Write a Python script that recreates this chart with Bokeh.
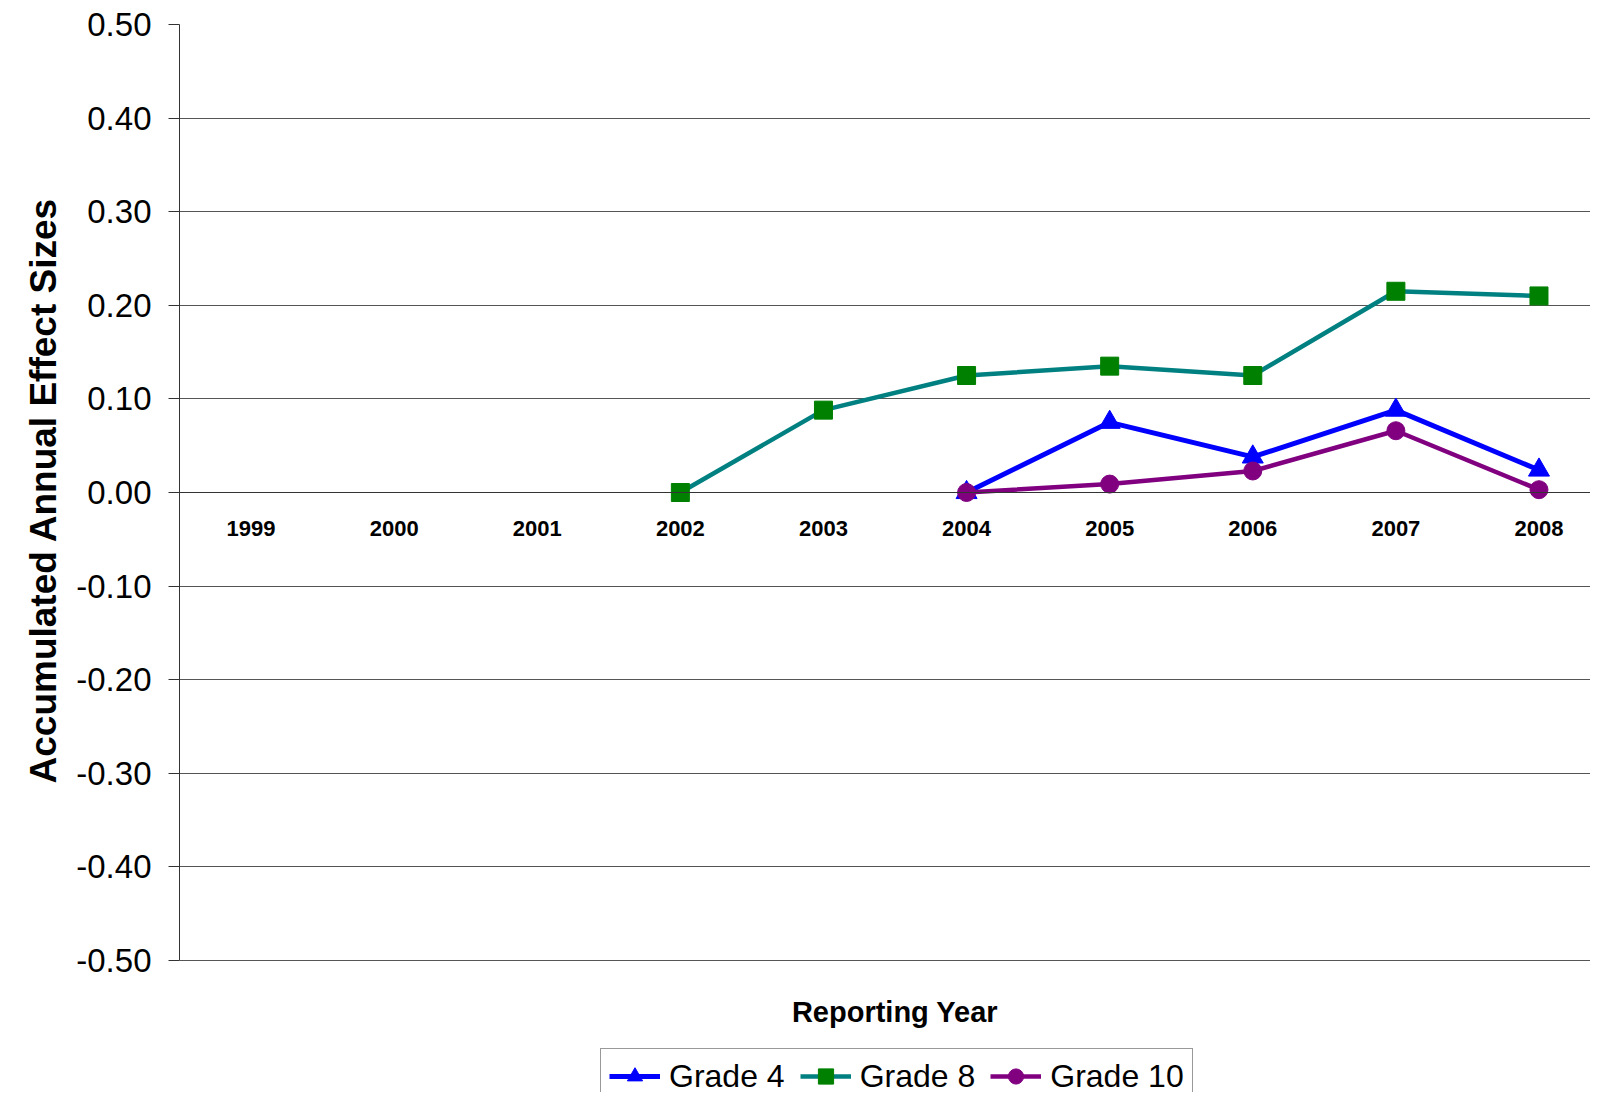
from bokeh.plotting import figure
from bokeh.models import Range1d, FixedTicker, NumeralTickFormatter, Legend, Label, Title
from bokeh.embed import file_html
from bokeh.resources import INLINE

# ---- data ----
years = [1999, 2000, 2001, 2002, 2003, 2004, 2005, 2006, 2007, 2008]
year_labels = ["1999", "2000", "2001", "2002", "2003", "2004", "2005", "2006", "2007", "2008"]

g4_years = [2004, 2005, 2006, 2007, 2008]
g4_vals = [0.000, 0.075, 0.038, 0.088, 0.024]

g8_years = [2002, 2003, 2004, 2005, 2006, 2007, 2008]
g8_vals = [0.000, 0.088, 0.125, 0.135, 0.125, 0.215, 0.210]

g10_years = [2004, 2005, 2006, 2007, 2008]
g10_vals = [0.000, 0.009, 0.023, 0.066, 0.003]

y_ticks = [-0.5, -0.4, -0.3, -0.2, -0.1, 0.0, 0.1, 0.2, 0.3, 0.4, 0.5]

FONT = "Liberation Sans"

p = figure(width=1590, height=1092, output_backend="svg", toolbar_location=None,
           x_range=Range1d(1998.5, 2008.36), y_range=Range1d(-0.641, 0.5),
           min_border_left=179, min_border_right=0, min_border_top=24, min_border_bottom=0,
           background_fill_color="white", border_fill_color="white")
p.outline_line_color = None

# y axis
yax = p.yaxis[0]
yax.ticker = FixedTicker(ticks=y_ticks)
yax.bounds = (-0.5, 0.5)
yax.formatter = NumeralTickFormatter(format="0.00")
yax.major_label_text_font = FONT
yax.major_label_text_font_size = "33px"
yax.major_label_text_color = "black"
yax.major_tick_out = 11
yax.major_tick_in = 0
yax.minor_tick_line_color = None
yax.major_label_standoff = 17
yax.axis_line_color = "#333333"
yax.major_tick_line_color = "#333333"

# y-axis title, anchored so that it is centred on the -0.5..0.5 span
ytitle = Title(text="Accumulated Annual Effect Sizes", align="left", offset=309,
               vertical_align="top",
               text_font=FONT, text_font_size="37px", text_font_style="bold",
               text_color="black", standoff=16)
p.add_layout(ytitle, "left")

# x axis (sits on the zero line)
xax = p.xaxis[0]
xax.ticker = FixedTicker(ticks=years)
xax.major_label_overrides = {y: l for y, l in zip(years, year_labels)}
xax.fixed_location = 0
xax.major_tick_out = 0
xax.major_tick_in = 0
xax.minor_tick_line_color = None
xax.axis_line_color = "#333333"
xax.major_label_standoff = 28
xax.major_label_text_font = FONT
xax.major_label_text_font_size = "22px"
xax.major_label_text_font_style = "bold"
xax.major_label_text_color = "black"

p.xgrid.grid_line_color = None
p.ygrid.ticker = FixedTicker(ticks=y_ticks)
p.ygrid.grid_line_color = "#555555"
p.ygrid.grid_line_width = 1

# series
r4l = p.line(g4_years, g4_vals, line_color="#0000FF", line_width=5)
r4m = p.scatter(g4_years, g4_vals, marker="triangle", size=21, fill_color="#0000FF", line_color="#0000FF")
r8l = p.line(g8_years, g8_vals, line_color="#008080", line_width=4.5)
r8m = p.scatter(g8_years, g8_vals, marker="square", size=18, fill_color="#008000", line_color="#008000")
r10l = p.line(g10_years, g10_vals, line_color="#800080", line_width=4.5)
r10m = p.scatter(g10_years, g10_vals, marker="circle", size=18, fill_color="#800080", line_color="#800080")

# x-axis title
p.add_layout(Label(x=2003.5, y=-0.5545, text="Reporting Year", text_align="center",
                   text_baseline="middle", text_font=FONT, text_font_size="29px",
                   text_font_style="bold", text_color="black"))

legend = Legend(items=[("Grade 4", [r4l, r4m]), ("Grade 8", [r8l, r8m]), ("Grade 10", [r10l, r10m])],
                orientation="horizontal", location=(421, -12),
                label_text_font=FONT, label_text_font_size="32px", label_text_color="black",
                glyph_width=51, glyph_height=38, label_standoff=9, spacing=15,
                padding=8, margin=0, border_line_color="#333333", border_line_width=1,
                background_fill_color="white", background_fill_alpha=1.0)
p.add_layout(legend, "center")

open("out.html", "w").write(file_html(p, INLINE))
